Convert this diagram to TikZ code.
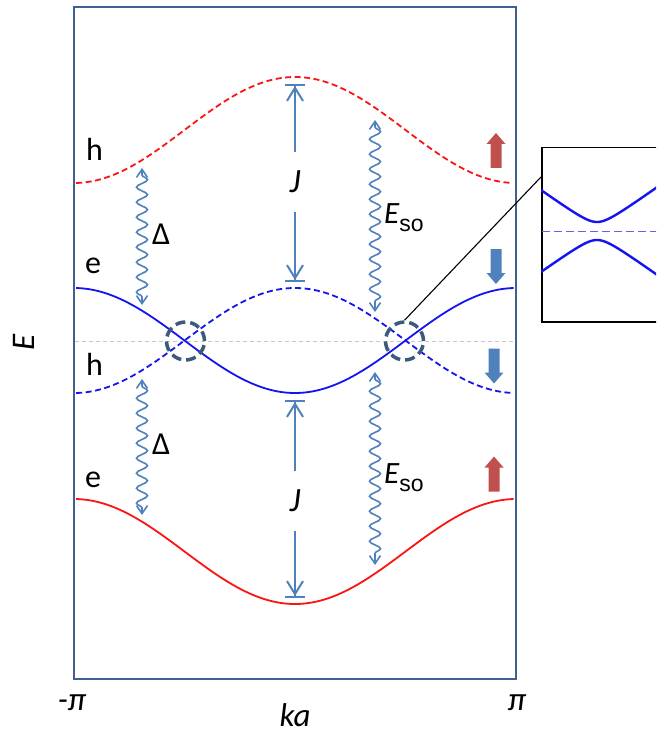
\documentclass[tikz,border=0pt]{standalone}
\usepackage{fontspec}
\setmainfont{Carlito}
\newfontfamily\arialfam{Liberation Sans}
\usetikzlibrary{arrows.meta,decorations.pathmorphing}
\definecolor{framec}{RGB}{65,96,145}
\definecolor{arrc}{RGB}{79,129,189}
\definecolor{bred}{RGB}{192,80,77}
\definecolor{bblue}{RGB}{79,129,189}
\definecolor{circc}{RGB}{60,90,125}
\definecolor{bandred}{RGB}{250,20,20}
\definecolor{bandblue}{RGB}{20,20,240}
\definecolor{midgray}{RGB}{200,200,200}
\definecolor{insdash}{RGB}{100,100,230}
\tikzset{
  frame/.style={draw=framec, line width=2pt},
  band/.style={line width=1.8pt},
  dashband/.style={line width=1.8pt, dash pattern=on 6pt off 3.5pt},
  jarr/.style={draw=arrc, line width=2pt},
  jtip/.style={{Bar[width=20pt,line width=2pt]Straight Barb[length=13pt,width=16pt,line width=2pt]}-},
  jlabel/.style={minimum height=59pt, inner sep=0pt, font=\fontsize{34}{38}\selectfont\itshape},
  wavy/.style={draw=arrc, line width=1.6pt,
    {Straight Barb[length=8pt,width=11pt,line width=1.6pt]}-{Straight Barb[length=8pt,width=11pt,line width=1.6pt]},
    decorate, decoration={snake, amplitude=5.5pt, segment length=15pt, pre length=7pt, post length=7pt}},
  lbl/.style={inner sep=0pt, font=\fontsize{32}{36}\selectfont},
  axl/.style={inner sep=0pt, font=\fontsize{33}{36}\selectfont\itshape},
  circ/.style={circle, draw=circc, line width=3.5pt, dash pattern=on 10pt off 5pt, minimum size=38pt, inner sep=0pt},
  uparrow/.pic={\fill (-5.5,17.5) -- (-5.5,-6.5) -- (-9.5,-6.5) -- (0,-17.5) -- (9.5,-6.5) -- (5.5,-6.5) -- (5.5,17.5) -- cycle;},
  downarrow/.pic={\fill (-5.5,-17.5) -- (-5.5,6.5) -- (-9.5,6.5) -- (0,17.5) -- (9.5,6.5) -- (5.5,6.5) -- (5.5,-17.5) -- cycle;},
  insetbox/.style={draw=black, line width=1.5pt, minimum width=150pt, minimum height=174pt, inner sep=0pt, anchor=north west},
}
\begin{document}
\begin{tikzpicture}[x=1pt,y=-1pt]
\clip (0,0) rectangle (656,735);
\fill[white] (0,0) rectangle (656,735);

% frame
\draw[frame] (74,7) rectangle (516,679);

% mid dashed line
\draw[midgray, line width=0.9pt, dash pattern=on 4pt off 3pt] (75,341) -- (515,341);

% bands
\draw[bandred, dashband] plot[domain=-0.99:0.98, samples=140] ({295+221*\x},{130-53*cos(180*\x)});
\draw[bandblue, band] plot[domain=-0.99:0.99, samples=140] ({295+221*\x},{340.5+52.5*cos(180*\x)});
\draw[bandblue, dashband] plot[domain=-0.99:0.99, samples=140] ({295+221*\x},{340.5-52.5*cos(180*\x)});
\draw[bandred, band] plot[domain=-0.99:0.99, samples=140] ({295+221*\x},{551.5+52.5*cos(180*\x)});

% crossing circles
\node[circ] (c1) at (185.5,341) {};
\node[circ] (c2) at (404.5,341) {};

% inset
\node[insetbox] (inset) at (541,147) {};
\coordinate (ins) at (541,177);
\draw[black, line width=1.1pt] (c2.north) -- (ins);
\begin{scope}
\clip (541,147) rectangle (700,321);
\draw[insdash, line width=0.9pt, dash pattern=on 8pt off 4pt] (542,231) -- (660,231);
\draw[bandblue, line width=2.4pt] plot[domain=-56:63, samples=90] ({597+\x},{231-sqrt(81+0.51*\x*\x)});
\draw[bandblue, line width=2.4pt] plot[domain=-56:63, samples=90] ({597+\x},{231+sqrt(81+0.51*\x*\x)});
\end{scope}

% J arrows
\coordinate (Jt1) at (295,84);
\coordinate (Jb1) at (295,282);
\node[jlabel] (J1) at (295,182) {J};
\draw[jarr, jtip] (Jt1) -- (J1.north);
\draw[jarr, jtip] (Jb1) -- (J1.south);

\coordinate (Jt2) at (295,400);
\coordinate (Jb2) at (295,598);
\node[jlabel] (J2) at (295,501) {J};
\draw[jarr, jtip] (Jt2) -- (J2.north);
\draw[jarr, jtip] (Jb2) -- (J2.south);

% wavy arrows
\coordinate (d1a) at (142,168);
\coordinate (d1b) at (142,305);
\draw[wavy] (d1a) -- (d1b);
\coordinate (d2a) at (142,379);
\coordinate (d2b) at (142,515);
\draw[wavy] (d2a) -- (d2b);
\coordinate (s1a) at (375,120);
\coordinate (s1b) at (375,312);
\draw[wavy] (s1a) -- (s1b);
\coordinate (s2a) at (375,372);
\coordinate (s2b) at (375,565);
\draw[wavy] (s2a) -- (s2b);

% labels
\node[lbl, anchor=base west] (h1) at (86,161) {h};
\node[lbl, anchor=base west] (e1) at (85,273) {e};
\node[lbl, anchor=base west] (h2) at (86,375) {h};
\node[lbl, anchor=base west] (e2) at (85,487) {e};
\node[lbl, anchor=base west] (D1) at (152,244) {Δ};
\node[lbl, anchor=base west] (D2) at (152,454) {Δ};
\node[lbl, anchor=base west] (S1) at (384,223) {{\fontsize{31}{34}\selectfont\itshape E}\raisebox{-8pt}{\arialfam\fontsize{23}{26}\selectfont so}};
\node[lbl, anchor=base west] (S2) at (384,483) {{\fontsize{31}{34}\selectfont\itshape E}\raisebox{-8pt}{\arialfam\fontsize{23}{26}\selectfont so}};

% spin block arrows
\pic[bred] at (496,150.5) {uparrow};
\pic[bblue] at (496,266.5) {downarrow};
\pic[bblue] at (494,366) {downarrow};
\pic[bred] at (494,474) {uparrow};

% axes labels
\node[axl] (mpi) at (72,703) {-π};
\node[axl] (ppi) at (517,703) {π};
\node[axl] (ka) at (295,715) {ka};
\node[axl, rotate=90] (Eax) at (24,342) {E};
\end{tikzpicture}
\end{document}
